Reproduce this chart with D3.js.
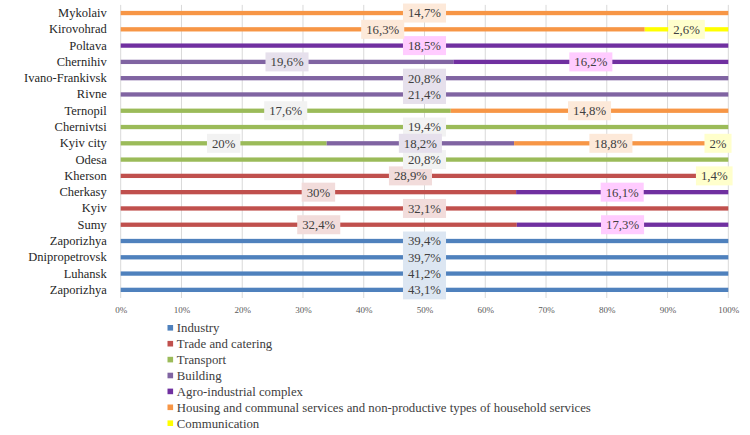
<!DOCTYPE html>
<html><head><meta charset="utf-8">
<script src="https://cdn.jsdelivr.net/npm/d3@7"></script>
<style>
html,body{margin:0;padding:0;background:#fff;}
svg{display:block;}
svg text{font-family:'Liberation Serif','Times New Roman','DejaVu Serif',serif !important;}
</style></head>
<body><svg id="c" width="750" height="435"></svg>
<script>
const categories = ["Mykolaiv","Kirovohrad","Poltava","Chernihiv","Ivano-Frankivsk","Rivne","Ternopil","Chernivtsi","Kyiv city","Odesa","Kherson","Cherkasy","Kyiv","Sumy","Zaporizhya","Dnipropetrovsk","Luhansk","Zaporizhya"];
const seriesNames = ["Industry","Trade and catering","Transport","Building","Agro-industrial complex","Housing and communal services and non-productive types of household services","Communication"];
const industry      = [0,0,0,0,0,0,0,0,0,0,0,0,0,0,39.4,39.7,41.2,43.1];
const trade         = [0,0,0,0,0,0,0,0,0,0,28.9,30,32.1,32.4,0,0,0,0];
const transport     = [0,0,0,0,0,0,17.6,19.4,20,20.8,0,0,0,0,0,0,0,0];
const building      = [0,0,0,19.6,20.8,21.4,0,0,18.2,0,0,0,0,0,0,0,0,0];
const agro          = [0,0,18.5,16.2,0,0,0,0,0,0,0,16.1,0,17.3,0,0,0,0];
const housing       = [14.7,16.3,0,0,0,0,14.8,0,18.8,0,0,0,0,0,0,0,0,0];
const communication = [0,2.6,0,0,0,0,0,0,2,0,1.4,0,0,0,0,0,0,0];
const xTicks = [0,0.1,0.2,0.3,0.4,0.5,0.6,0.7,0.8,0.9,1];

const seriesValues = [industry,trade,transport,building,agro,housing,communication];
const colors = ["#4f81bd","#c0504d","#9bbb59","#8064a2","#7030a0","#f79646","#ffff00"];
const labelBg = ["#dce6f2","#f2dcdb","#f2f2f2","#e6e0ec","#ffccff","#fde9d9","#ffffcc"];
const FONT = "'Liberation Serif','Times New Roman','DejaVu Serif',serif";

const rows = categories.map((c,i)=>{
  const o = {idx:i, name:c};
  seriesNames.forEach((s,j)=>{ o[s] = seriesValues[j][i]; });
  return o;
});

const svg = d3.select("#c");
const pLeft = 120.7, pRight = 728.3, pTop = 4.9, pBottom = 298;
const x = d3.scaleLinear().domain([0,1]).range([pLeft,pRight]);
const y = d3.scaleBand().domain(rows.map(r=>r.idx)).range([pTop,pBottom]);

// gridlines
svg.append("g").selectAll("line").data(xTicks).join("line")
  .attr("x1",d=>x(d)).attr("x2",d=>x(d)).attr("y1",pTop).attr("y2",pBottom)
  .attr("stroke","#d9d9d9").attr("stroke-width",1);

// x axis tick labels
const xAxis = d3.axisBottom(x).tickValues(xTicks).tickFormat(d3.format(".0%")).tickSize(0).tickPadding(0);
const gx = svg.append("g").attr("transform",`translate(0,${pBottom+8.5})`).call(xAxis);
gx.attr("font-family",FONT);
gx.select(".domain").remove();
gx.selectAll("text").attr("font-size","9px").attr("fill","#595959").style("font-family",FONT);

// y axis labels
const yAxis = d3.axisLeft(y).tickFormat(i=>categories[i]).tickSize(0).tickPadding(14);
const gy = svg.append("g").attr("transform",`translate(${pLeft},0)`).call(yAxis);
gy.attr("font-family",FONT);
gy.select(".domain").remove();
gy.selectAll("text").attr("font-size","12.5px").attr("fill","#262626").style("font-family",FONT);

// stacked bars
const stack = d3.stack().keys(seriesNames).offset(d3.stackOffsetExpand);
const stacked = stack(rows);
const barH = 4.3;
stacked.forEach((layer,j)=>{
  svg.append("g").selectAll("rect").data(layer.filter(d=>d[1]-d[0]>0)).join("rect")
    .attr("x",d=>x(d[0])).attr("width",d=>x(d[1])-x(d[0]))
    .attr("y",d=>y(d.data.idx)+y.bandwidth()/2-barH/2).attr("height",barH)
    .attr("fill",colors[j]);
});

// labels
const fmt = v => String(v).replace(".",",")+"%";
stacked.forEach((layer,j)=>{
  layer.filter(d=>d[1]-d[0]>0).forEach(d=>{
    const v = d.data[seriesNames[j]];
    const cx = x((d[0]+d[1])/2), cy = y(d.data.idx)+y.bandwidth()/2;
    const g = svg.append("g");
    const t = g.append("text").attr("x",cx).attr("y",cy+4.4).attr("text-anchor","middle")
      .style("font-family",FONT).attr("font-size","12.8px").attr("fill","#404040").text(fmt(v));
    const w = t.node().getComputedTextLength();
    g.insert("rect","text").attr("x",cx-w/2-5).attr("y",cy-9.5).attr("width",w+10).attr("height",19)
      .attr("fill",labelBg[j]);
  });
});

// legend
const lg = svg.append("g");
seriesNames.forEach((s,j)=>{
  const cy = 327.8 + j*15.9;
  lg.append("rect").attr("x",167.5).attr("y",cy-2.8).attr("width",5.6).attr("height",5.6).attr("fill",colors[j]);
  lg.append("text").attr("x",176.8).attr("y",cy+4.4).style("font-family",FONT)
    .attr("font-size","12.8px").attr("fill","#404040").text(s);
});
</script></body></html>
